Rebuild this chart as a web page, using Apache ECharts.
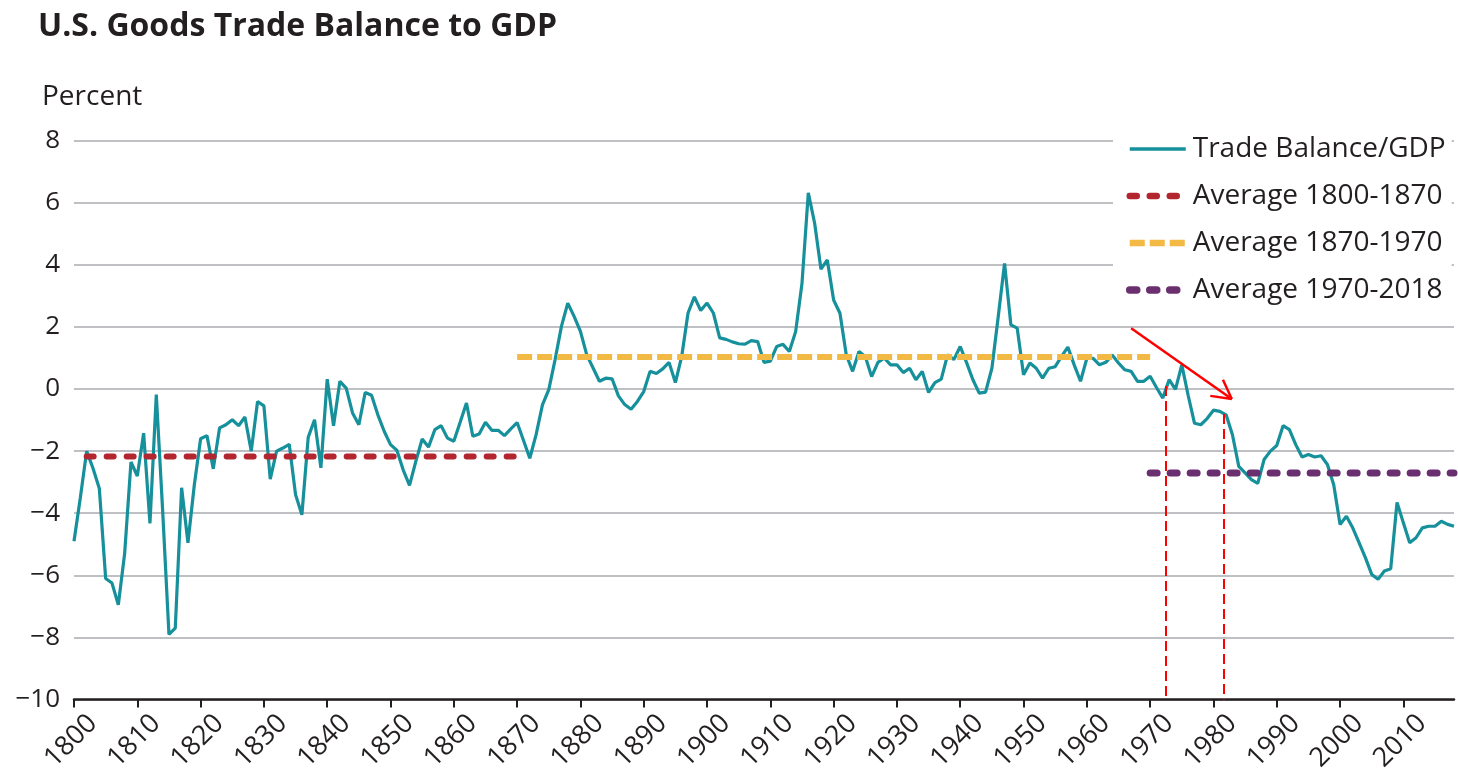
<!DOCTYPE html>
<html>
<head>
<meta charset="utf-8">
<script src="https://cdn.jsdelivr.net/npm/echarts@6/dist/echarts.min.js"></script>
<style>
  html, body { margin: 0; padding: 0; background: #fff; }
  #chart { width: 1458px; height: 770px; }
</style>
</head>
<body>
<div id="chart"></div>
<script>
// trade balance / GDP, percent, one value a year from 1800
var firstYear = 1800;
var tradeBalance = [
  -4.9, -3.5, -2.0, -2.55, -3.2, -6.1, -6.25, -6.95, -5.3, -2.35,
  -2.8, -1.42, -4.33, -0.18, -3.9, -7.9, -7.7, -3.18, -4.95, -3.1,
  -1.6, -1.5, -2.57, -1.25, -1.15, -0.99, -1.18, -0.9, -2.0, -0.4,
  -0.54, -2.9, -2.0, -1.9, -1.78, -3.4, -4.05, -1.55, -0.99, -2.54,
  0.32, -1.18, 0.25, 0.03, -0.77, -1.15, -0.11, -0.2, -0.83, -1.36,
  -1.79, -1.97, -2.6, -3.1, -2.33, -1.61, -1.87, -1.31, -1.18, -1.58,
  -1.68, -1.07, -0.45, -1.52, -1.45, -1.07, -1.33, -1.33, -1.5, -1.28,
  -1.08, -1.65, -2.23, -1.47, -0.51, -0.02, 0.95, 2.02, 2.77, 2.34,
  1.86, 1.1, 0.68, 0.25, 0.35, 0.33, -0.22, -0.5, -0.65, -0.4,
  -0.08, 0.57, 0.5, 0.65, 0.86, 0.21, 1.05, 2.45, 2.97, 2.53,
  2.77, 2.45, 1.65, 1.6, 1.52, 1.46, 1.45, 1.56, 1.53, 0.86,
  0.9, 1.37, 1.44, 1.21, 1.85, 3.4, 6.32, 5.34, 3.86, 4.16,
  2.87, 2.44, 1.1, 0.57, 1.21, 1.05, 0.4, 0.86, 1.0, 0.78,
  0.78, 0.53, 0.67, 0.3, 0.57, -0.11, 0.21, 0.32, 1.1, 0.95,
  1.37, 0.85, 0.3, -0.13, -0.1, 0.67, 2.33, 4.05, 2.07, 1.96,
  0.46, 0.84, 0.67, 0.35, 0.67, 0.72, 1.05, 1.35, 0.78, 0.25,
  0.99, 0.99, 0.78, 0.86, 1.1, 0.84, 0.62, 0.57, 0.25, 0.25,
  0.41, 0.05, -0.29, 0.3, -0.01, 0.78, -0.2, -1.1, -1.15, -0.95,
  -0.68, -0.72, -0.83, -1.47, -2.49, -2.7, -2.92, -3.04, -2.27, -2.0,
  -1.82, -1.18, -1.31, -1.79, -2.19, -2.11, -2.19, -2.15, -2.43, -3.08,
  -4.36, -4.1, -4.47, -4.95, -5.43, -5.97, -6.13, -5.86, -5.79, -3.65,
  -4.31, -4.95, -4.79, -4.47, -4.42, -4.42, -4.26, -4.36, -4.42
];

// period averages: [start year, end year, value]
var avg1800 = [1802, 1870, -2.17];
var avg1870 = [1870, 1970, 1.03];
var avg1970 = [1970, 2018, -2.70];

var seriesNames = ['Trade Balance/GDP', 'Average 1800-1870', 'Average 1870-1970', 'Average 1970-2018'];
var xTicks = [1800, 1810, 1820, 1830, 1840, 1850, 1860, 1870, 1880, 1890, 1900,
  1910, 1920, 1930, 1940, 1950, 1960, 1970, 1980, 1990, 2000, 2010];

var FONT = 'Open Sans';
var TEXT = '#231f20';

var TEAL = '#16909b';
var RED = '#b3262f';
var YELLOW = '#f2b944';
var PURPLE = '#6a2f6f';

var balanceData = tradeBalance.map(function (v, i) {
  return [firstYear + i, v];
});

function avgLine(a) {
  return [[a[0], a[2]], [a[1], a[2]]];
}

var tealStyle = { color: TEAL, width: 3.2 };
var redStyle = { color: RED, width: 6, type: [7, 13], cap: 'round' };
var yellowStyle = { color: YELLOW, width: 6, type: [15, 5] };
var purpleStyle = { color: PURPLE, width: 7, type: [7, 13], cap: 'round' };

// red annotation: two drop lines and an arrow (in data coords)
var annoLines = [
  [{ coord: [1972.5, 0.1] }, { coord: [1972.5, -10] }],
  [{ coord: [1981.7, -0.8] }, { coord: [1981.7, -10] }]
];
var arrowLines = [
  [{ coord: [1967.0, 1.96] }, { coord: [1982.9, -0.32] }],
  [{ coord: [1979.5, -0.22] }, { coord: [1982.9, -0.32] }],
  [{ coord: [1981.5, 0.30] }, { coord: [1982.9, -0.32] }]
];

var chart = echarts.init(document.getElementById('chart'), null, { renderer: 'canvas' });

function legendItem(name, ls) {
  return {
    name: name,
    itemStyle: { opacity: 0 },
    lineStyle: Object.assign({}, ls, { width: ls.width + 0.5 })
  };
}

var option = {
  animation: false,
  backgroundColor: '#fff',
  title: [
    {
      text: 'U.S. Goods Trade Balance to GDP',
      left: 33,
      top: 6,
      textStyle: { fontFamily: FONT, fontSize: 32, fontWeight: 'bold', color: TEXT }
    },
    {
      text: 'Percent',
      left: 37,
      top: 78,
      textStyle: { fontFamily: FONT, fontSize: 28, fontWeight: 'normal', color: TEXT }
    }
  ],
  grid: {
    left: 74,
    right: 4,
    top: 140.7,
    bottom: 70.5,
    outerBoundsMode: 'none'
  },
  legend: {
    orient: 'vertical',
    left: 1113,
    top: 127,
    backgroundColor: '#fff',
    padding: [8, 6, 10, 13],
    itemWidth: 56,
    itemHeight: 14,
    itemGap: 19,
    textStyle: { fontFamily: FONT, fontSize: 28, color: TEXT, padding: [0, 0, 0, 2] },
    data: [
      legendItem(seriesNames[0], tealStyle),
      legendItem(seriesNames[1], redStyle),
      legendItem(seriesNames[2], yellowStyle),
      legendItem(seriesNames[3], purpleStyle)
    ]
  },
  xAxis: {
    type: 'value',
    min: 1800,
    max: 2018,
    interval: 10,
    splitLine: { show: false },
    axisLine: { show: true, onZero: false, lineStyle: { color: '#231f20', width: 2.5 } },
    axisTick: { show: true, customValues: xTicks, length: 8, lineStyle: { color: '#231f20', width: 2 } },
    axisLabel: {
      customValues: xTicks,
      rotate: 45,
      margin: 1,
      verticalAlign: 'top',
      padding: [13, 0, 0, 0],
      fontFamily: FONT,
      fontSize: 27,
      color: TEXT,
      formatter: function (v) { return String(v); }
    }
  },
  yAxis: {
    type: 'value',
    min: -10,
    max: 8,
    interval: 2,
    axisLine: { show: false },
    axisTick: { show: false },
    splitLine: { lineStyle: { color: '#bfc0c3', width: 2 } },
    axisLabel: {
      margin: 14,
      fontFamily: FONT,
      fontSize: 26,
      color: TEXT,
      formatter: function (v) { return String(v).replace('-', '\u2212'); }
    }
  },
  series: [
    {
      name: seriesNames[0],
      type: 'line',
      data: balanceData,
      symbol: 'none',
      z: 2,
      lineStyle: tealStyle,
      itemStyle: { color: TEAL }
    },
    {
      name: seriesNames[1],
      type: 'line',
      data: avgLine(avg1800),
      symbol: 'none',
      z: 3,
      lineStyle: redStyle,
      itemStyle: { color: RED }
    },
    {
      name: seriesNames[2],
      type: 'line',
      data: avgLine(avg1870),
      symbol: 'none',
      z: 3,
      lineStyle: yellowStyle,
      itemStyle: { color: YELLOW }
    },
    {
      name: seriesNames[3],
      type: 'line',
      data: avgLine(avg1970),
      symbol: 'none',
      z: 3,
      lineStyle: purpleStyle,
      itemStyle: { color: PURPLE }
    },
    {
      // annotation only
      type: 'line',
      data: [],
      z: 4,
      markLine: {
        silent: true,
        symbol: ['none', 'none'],
        label: { show: false },
        animation: false,
        data: annoLines.map(function (d) {
          return [Object.assign({ lineStyle: { color: '#ff0000', width: 2, type: [10, 5] } }, d[0]), d[1]];
        }).concat(arrowLines.map(function (d) {
          return [Object.assign({ lineStyle: { color: '#ff0000', width: 2.5, type: 'solid' } }, d[0]), d[1]];
        }))
      }
    }
  ]
};

chart.setOption(option);
</script>
</body>
</html>
